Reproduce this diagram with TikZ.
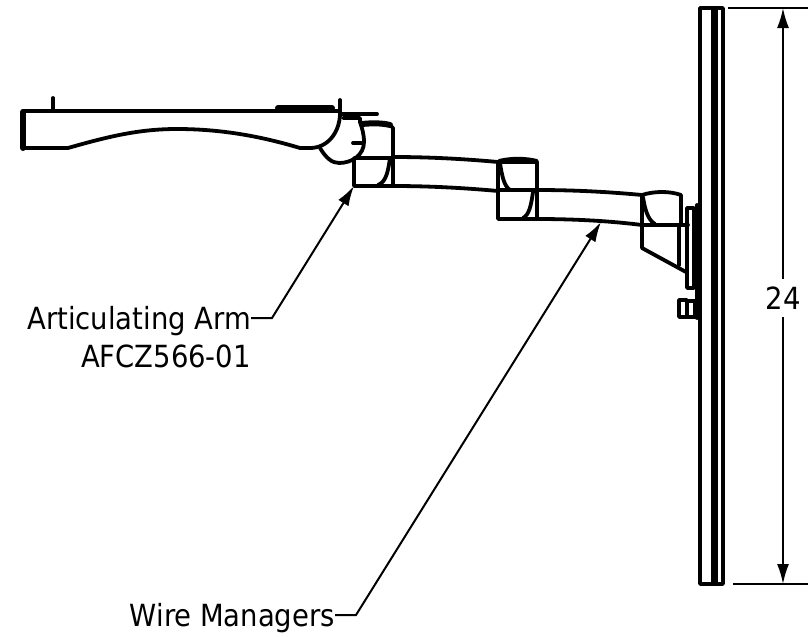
\documentclass[tikz,border=0pt]{standalone}
\usepackage{fontspec}
\setmainfont{DejaVu Sans Condensed}
\usetikzlibrary{arrows.meta}

\begin{document}
\begin{tikzpicture}[x=1pt,y=-1pt]
  \tikzstyle{part}=[line width=3.8pt, line join=round, line cap=round]
  \tikzstyle{heavy}=[line width=6pt, line join=round, line cap=round]
  \tikzstyle{leader}=[line width=2pt, -{Latex[length=20pt,width=12pt]}]
  \tikzstyle{callout}=[inner sep=0pt, text height=24pt, text depth=2pt, font=\fontsize{30.5}{36}\selectfont]
  \useasboundingbox (0,0) rectangle (811,637);

  % tray
  \draw[part] (23,111) -- (340,111);
  \draw[heavy] (23,112) -- (23,148);
  \draw[part] (23,148) -- (68,148) .. controls (110,136) and (140,129) .. (177,129) .. controls (220,129) and (260,136) .. (300,148) -- (310,148) .. controls (328,148) and (340,132) .. (340,113);
  \draw[part] (53,98) -- (53,111);
  \draw[part] (340,100) -- (340,113);
  \draw[part] (340,114) -- (377,114);
  \draw[heavy] (278,108) -- (332,108);
  % swivel
  \draw[part] (320,148) .. controls (326,158) and (332,163) .. (339,163) .. controls (352,163) and (364,155) .. (364,142) .. controls (364,134) and (362,128) .. (360,122) -- (360,118) -- (343,118);
  \draw[part] (353,143) -- (363,143);

  % first block
  \draw[heavy] (362,124) .. controls (372,123) and (382,123) .. (390,125);
  \draw[part] (390,125) -- (393,128) -- (393,186) -- (354,186) -- (354,158) -- (393,158);
  \draw[part] (390,158) .. controls (388,172) and (386,182) .. (378,185);
  % first arm
  \draw[part] (393,157) .. controls (430,157) and (465,159) .. (498,162);
  \draw[part] (393,186) .. controls (430,186) and (465,188) .. (498,191);

  % second block
  \draw[part] (498,162) rectangle (537,219);
  \draw[part] (498,190) -- (537,190);
  \draw[part] (499,161) .. controls (510,158) and (526,158) .. (537,161);
  \draw[part] (500,163) .. controls (502,176) and (504,186) .. (510,190);
  \draw[part] (533,192) .. controls (531,206) and (529,215) .. (523,218);
  % second arm
  \draw[part] (537,190) .. controls (575,190) and (610,192) .. (642,195);
  \draw[part] (537,219) .. controls (575,219) and (610,221) .. (642,225);

  % third block
  \draw[part] (642,195) .. controls (654,191) and (670,191) .. (681,195) -- (681,225);
  \draw[part] (642,195) -- (642,248) -- (686,272);
  \draw[part] (642,225) -- (688,225);
  \draw[part] (679,225) -- (679,265);
  \draw[part] (643,197) .. controls (645,210) and (648,220) .. (655,224);
  % flange
  \draw[part] (687,208) rectangle (694,288);
  \draw[part] (697,205) -- (697,318);
  % bolt
  \draw[part] (679,300) rectangle (687,317);
  \draw[part] (687,301) rectangle (695,317);

  % wall panel
  \draw[part] (700,8) rectangle (723,584);
  \draw[line width=7pt] (714,8) -- (714,584);

  % labels
  \node[callout, anchor=east] (arm) at (251,318) {Articulating Arm};
  \node[callout, anchor=east] (code) at (251,356) {AFCZ566-01};
  \node[callout, anchor=east] (wire) at (335,615) {Wire Managers};
  \node[callout, fill=white, inner xsep=2pt, inner ysep=6pt] (size) at (783,298) {24};

  % leaders
  \coordinate (armbend) at (272,318);
  \coordinate (armtip) at (354,186);
  \coordinate (wirebend) at (356,615);
  \coordinate (wiretip) at (601,222);
  \draw[leader] (arm.east) -- (armbend) -- (armtip);
  \draw[leader] (wire.east) -- (wirebend) -- (wiretip);

  % dimension
  \coordinate (dimtop) at (783,8);
  \coordinate (dimbot) at (783,584);
  \draw[line width=2pt] (728,8) -- (808,8);
  \draw[line width=2pt] (733,584) -- (808,584);
  \draw[leader] (size) -- (dimtop);
  \draw[leader] (size) -- (dimbot);
\end{tikzpicture}
\end{document}
